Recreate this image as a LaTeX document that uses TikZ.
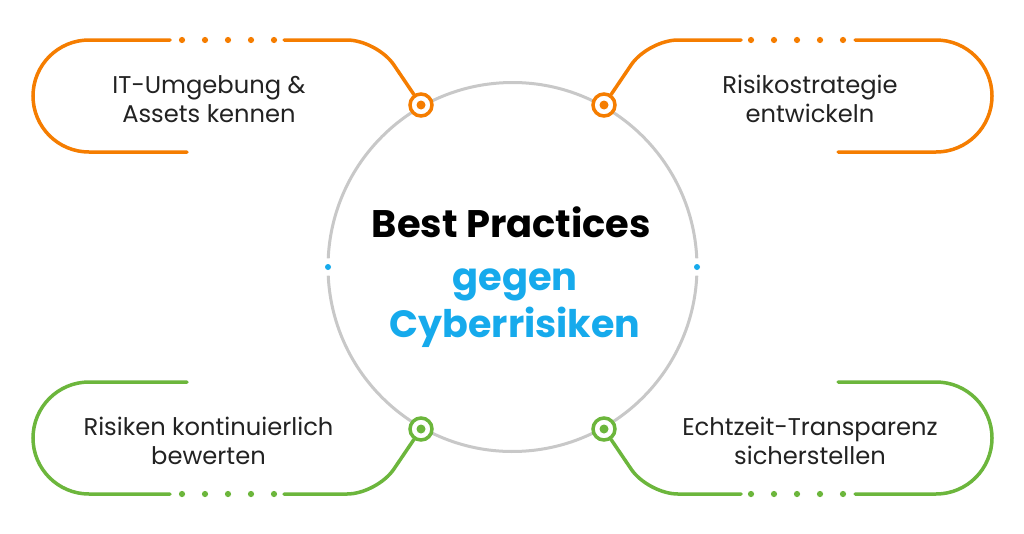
\documentclass[tikz,border=0pt]{standalone}
\usepackage{fontspec}
\setmainfont{Poppins}
\usetikzlibrary{calc}
\begin{document}
\begin{tikzpicture}[x=1pt,y=1pt,
  lbl/.style={text=txtgray,font=\fontsize{24.2}{28.5}\selectfont,align=center,inner sep=0pt},
  oline/.style={draw=orng,line width=3.5pt,line cap=round},
  gline/.style={draw=grn,line width=3.5pt,line cap=round},
  ringo/.style={circle,draw=orng,fill=white,line width=3.5pt,minimum size=22pt,inner sep=0pt},
  ringg/.style={circle,draw=grn,fill=white,line width=3.5pt,minimum size=22pt,inner sep=0pt},
]
\definecolor{orng}{RGB}{245,125,0}
\definecolor{grn}{RGB}{108,182,60}
\definecolor{blu}{RGB}{22,170,236}
\definecolor{cgray}{RGB}{200,200,200}
\definecolor{txtgray}{RGB}{34,34,34}
\useasboundingbox[fill=white] (0,0) rectangle (1024,-533);

% main circle with gaps
\coordinate (c) at (512.5,-267);
\draw[cgray,line width=3pt] ($(c)+(2.7:184.5)$) arc[start angle=2.7,end angle=177.3,radius=184.5];
\draw[cgray,line width=3pt] ($(c)+(182.7:184.5)$) arc[start angle=182.7,end angle=357.3,radius=184.5];
\fill[blu] (328,-267) circle[radius=3];
\fill[blu] (697,-267) circle[radius=3];

% rings
\node[ringo] (rTL) at (421,-105) {};
\node[ringo] (rTR) at (604,-105) {};
\node[ringg] (rBL) at (421,-429) {};
\node[ringg] (rBR) at (604,-429) {};
\fill[orng] (rTL.center) circle[radius=4.5];
\fill[orng] (rTR.center) circle[radius=4.5];
\fill[grn] (rBL.center) circle[radius=4.5];
\fill[grn] (rBR.center) circle[radius=4.5];

% top-left
\coordinate (tlA) at (284,-40);
\draw[oline,rounded corners=30pt] (rTL) -- (377,-40) -- (tlA);
\draw[oline] (170,-40) -- (89,-40) arc[start angle=90,end angle=270,radius=56] -- (187,-152);
\foreach \x in {182,205,228,251,274} \fill[orng] (\x,-40) circle[radius=3.1];

% top-right
\coordinate (trA) at (741,-40);
\draw[oline,rounded corners=30pt] (rTR) -- (648,-40) -- (trA);
\draw[oline] (855,-40) -- (936,-40) arc[start angle=90,end angle=-90,radius=56] -- (838,-152);
\foreach \x in {751,774,797,820,843} \fill[orng] (\x,-40) circle[radius=3.1];

% bottom-left
\coordinate (blA) at (284,-494);
\draw[gline,rounded corners=30pt] (rBL) -- (377,-494) -- (blA);
\draw[gline] (187,-382) -- (89,-382) arc[start angle=90,end angle=270,radius=56] -- (170,-494);
\foreach \x in {182,205,228,251,274} \fill[grn] (\x,-494) circle[radius=3.1];

% bottom-right
\coordinate (brA) at (741,-494);
\draw[gline,rounded corners=30pt] (rBR) -- (648,-494) -- (brA);
\draw[gline] (838,-382) -- (936,-382) arc[start angle=90,end angle=-90,radius=56] -- (855,-494);
\foreach \x in {751,774,797,820,843} \fill[grn] (\x,-494) circle[radius=3.1];

% labels
\node[lbl] (tTL) at (209,-99) {IT-Umgebung \&\\Assets kennen};
\node[lbl] (tTR) at (810,-99) {Risikostrategie\\entwickeln};
\node[lbl] (tBL) at (208.5,-441) {Risiken kontinuierlich\\bewerten};
\node[lbl] (tBR) at (810,-441) {Echtzeit-Transparenz\\sicherstellen};

% center
\node[anchor=base,inner sep=0pt,font=\fontsize{38.4}{40}\selectfont\bfseries,text=black] (t1) at (511.5,-237) {Best Practices};
\node[anchor=base,inner sep=0pt,font=\fontsize{38.4}{40}\selectfont\bfseries,text=blu] (t2) at (515,-290) {gegen};
\node[anchor=base,inner sep=0pt,font=\fontsize{38}{40}\selectfont\bfseries,text=blu] (t3) at (515,-337) {Cyberrisiken};
\end{tikzpicture}
\end{document}
